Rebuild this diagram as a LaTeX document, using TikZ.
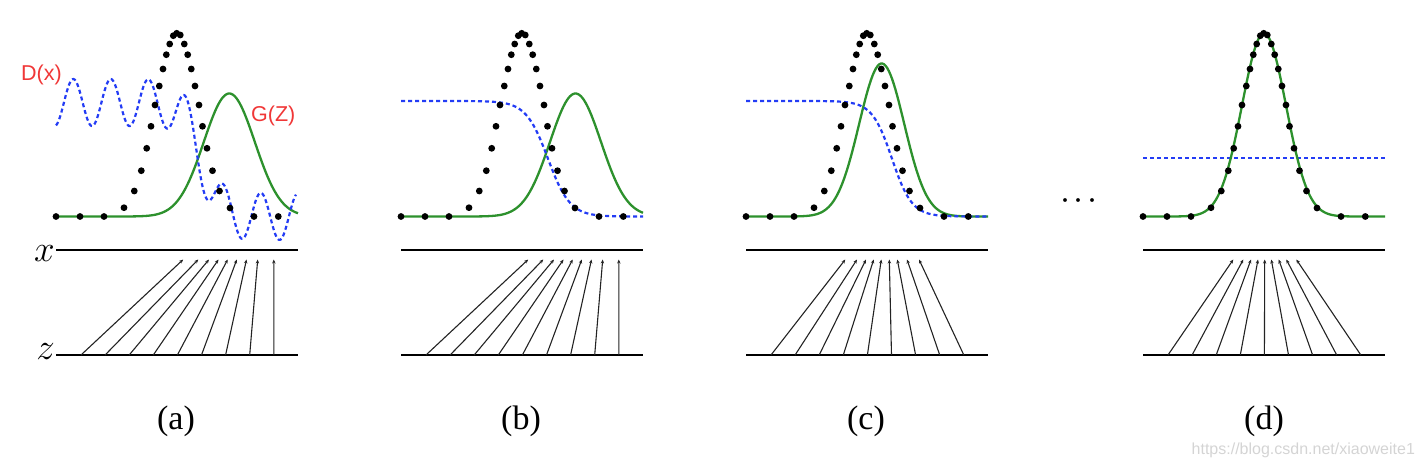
\RequirePackage{fix-cm}
\documentclass[tikz,border=0pt]{standalone}
\usepackage{fontspec}
\newfontfamily\serifT{Liberation Serif}
\newfontfamily\sansA{Liberation Sans}
\usetikzlibrary{arrows.meta}
\definecolor{gcol}{RGB}{45,145,45}
\definecolor{bcol}{RGB}{35,60,245}
\definecolor{rcol}{RGB}{240,55,55}
\definecolor{wmcol}{RGB}{212,212,212}
\definecolor{arrcol}{RGB}{35,35,35}

\newcommand\ganaxes[1]{%
  \coordinate (#1xl) at (56,250);
  \coordinate (#1xr) at (298,250);
  \coordinate (#1zl) at (56,355);
  \coordinate (#1zr) at (298,355);
  \draw[axisline] (#1xl) -- (#1xr);
  \draw[axisline] (#1zl) -- (#1zr);
}
\newcommand\ganmap[2]{%
  \foreach \t [count=\i from 0] in {#2} {
    \coordinate (#1zb\i) at ({81+24.1*\i},355);
    \coordinate (#1zt\i) at (\t,259.5);
    \draw[mapline] (#1zb\i) -- (#1zt\i);
  }
}
\newcommand\gandots[1]{%
  \foreach \dx/\dy [count=\i] in {56/216.5,80/216.5,104/216.5,124/207.7,134.3/191,141.3/170.7,146.7/148.3,151/126.3,155/105,159.3/86,163/69,166.3/54.7,169.7/44,173.3/35.7,176.7/33.3,180.3/35,184.3/44,187.7/54.7,191.3/69,195/86,199/105,202.5/126.3,207/148.3,212.5/170.7,219.5/191,230/208,254/216.5,278.3/216.5} {
    \node[datadot] (#1dot\i) at (\dx,\dy) {};
  }
}

\begin{document}
\begin{tikzpicture}[x=1pt,y=-1pt,
  declare function={sig(\t)=1/(1+exp(-max(-8,min(8,\t))));
                    gau(\u)=exp(-min(8,0.5*\u*\u));},
  axisline/.style={line width=2pt,black},
  genline/.style={gcol,line width=2.3pt},
  discline/.style={bcol,line width=2.2pt,dash pattern=on 4pt off 3pt},
  mapline/.style={arrcol,line width=1.1pt,-{Stealth[length=4pt,width=3.4pt]}},
  datadot/.style={circle,fill=black,inner sep=0pt,minimum size=6.8pt},
  panellabel/.style={font=\serifT\fontsize{34}{36}\selectfont,inner sep=0pt,anchor=base},
  varlabel/.style={font=\fontsize{37}{40}\selectfont,inner sep=0pt,anchor=base east},
  curvelabel/.style={font=\sansA\fontsize{21.5}{24}\selectfont,text=rcol,inner sep=0pt,anchor=base},
]
\useasboundingbox (0,0) rectangle (1422,468);

% ---------- panel (a)
\begin{scope}
  \ganaxes{a}
  \node[varlabel] (xlab) at (55,261) {$x$};
  \node[varlabel] (zlab) at (55,359) {$z$};
  \ganmap{a}{183.2,198.3,209,218.5,227.7,236.8,246.5,257.7,273.8}
  \draw[genline] plot[domain=56:298,samples=150] (\x,{216.5-123*gau((\x-229.3)/25.5)});
  \draw[discline] plot[domain=56:296,samples=300] (\x,{102.5+114*sig((\x-201)/9)-23.5*cos(360*((\x-73.3)/37.5))});
  \gandots{a}
  \node[curvelabel] (dlab) at (41.5,80.5) {D(x)};
  \node[curvelabel] (glab) at (273.3,121.5) {G(Z)};
  \node[panellabel] (labA) at (176,429) {(a)};
\end{scope}

% ---------- panel (b)
\begin{scope}[xshift=345pt]
  \ganaxes{b}
  \ganmap{b}{183.2,198.3,209,218.5,227.7,236.8,246.5,257.7,273.8}
  \draw[genline] plot[domain=56:298,samples=150] (\x,{216.5-123*gau((\x-230.5)/25.5)});
  \draw[discline] plot[domain=56:298,samples=200] (\x,{101+115.5*sig((\x-203)/11)});
  \gandots{b}
  \node[panellabel] (labB) at (176,429) {(b)};
\end{scope}

% ---------- panel (c)
\begin{scope}[xshift=690pt]
  \ganaxes{c}
  \ganmap{c}{155.3,167,176,183.7,191.3,199.3,207.3,217,229}
  \draw[genline] plot[domain=56:298,samples=150] (\x,{216.5-153*gau((\x-191.7)/22.5)});
  \draw[discline] plot[domain=56:298,samples=200] (\x,{101+115.5*sig((\x-202)/10)});
  \gandots{c}
  \node[panellabel] (labC) at (176,429) {(c)};
\end{scope}

% ---------- ellipsis
\node[inner sep=0pt,anchor=base,font=\fontsize{36}{40}\selectfont] (ell) at (1079,209.7) {${\cdot}\mkern2mu{\cdot}\mkern2mu{\cdot}$};

% ---------- panel (d)
\begin{scope}[xshift=1087pt]
  \ganaxes{d}
  \ganmap{d}{146.3,156.3,164,171,177.7,184.3,191.7,199.3,209.3}
  \coordinate (ddl) at (56,158.3);
  \coordinate (ddr) at (298,158.3);
  \draw[discline] (ddl) -- (ddr);
  \draw[genline] plot[domain=56:298,samples=150] (\x,{216.5-183.2*gau((\x-177)/22)});
  \gandots{d}
  \node[panellabel] (labD) at (177,429) {(d)};
\end{scope}

% ---------- watermark
\node[inner sep=0pt,anchor=base,font=\sansA\fontsize{16}{18}\selectfont,text=wmcol] (wm) at (1303.3,454) {https://blog.csdn.net/xiaoweite1};
\end{tikzpicture}
\end{document}
